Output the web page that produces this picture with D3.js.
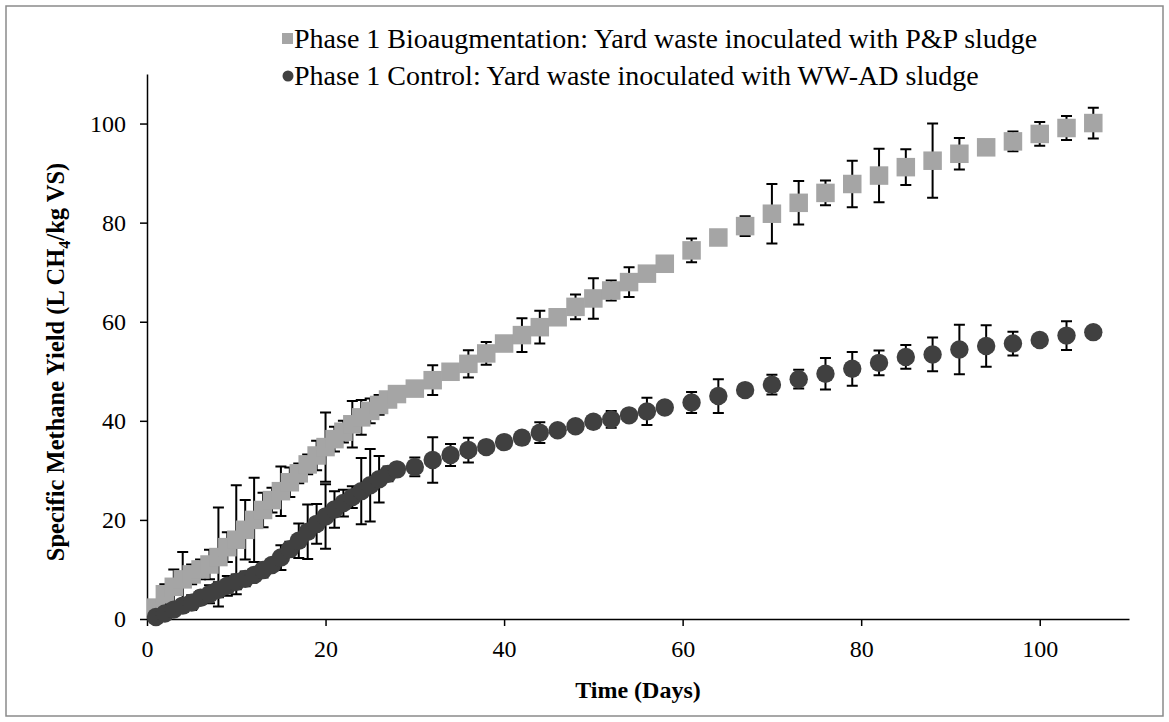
<!DOCTYPE html>
<html>
<head>
<meta charset="utf-8">
<script src="https://cdn.jsdelivr.net/npm/d3@7"></script>
<style>
  body { margin: 0; background: #fff; }
  svg { display: block; font-family: "Liberation Serif", "Times New Roman", serif; }
</style>
</head>
<body>
<div id="myPlot"></div>
<script>
// sampling days (daily to day 28, then every 2 days, then every 3 days)
const days = [1, 2, 3, 4, 5, 6, 7, 8, 9, 10, 11, 12, 13, 14, 15, 16, 17, 18, 19, 20,
  21, 22, 23, 24, 25, 26, 27, 28, 30, 32, 34, 36, 38, 40, 42, 44, 46, 48, 50, 52, 54,
  56, 58, 61, 64, 67, 70, 73, 76, 79, 82, 85, 88, 91, 94, 97, 100, 103, 106];

// Phase 1 Bioaugmentation (grey squares)
const bioYield = [2.3, 5.0, 6.5, 8.0, 9.0, 10.0, 11.0, 12.5, 14.5, 16.0, 18.0, 20.0, 22.0, 24.0,
  25.8, 27.6, 29.4, 31.2, 33.0, 34.7, 36.3, 37.8, 39.3, 40.7, 42.0, 43.2, 44.3, 45.4,
  46.5, 48.2, 49.9, 51.5, 53.6, 55.6, 57.3, 58.9, 60.9, 63.0, 64.7, 66.3, 68.0,
  69.7, 71.7, 74.4, 77.0, 79.3, 81.8, 84.0, 86.0, 87.8, 89.5, 91.2, 92.5, 93.9, 95.2,
  96.4, 97.9, 99.1, 100.1];
const bioErr = [0.5, 2, 3.5, 5.5, 2, 2, 3, 10, 3, 11, 6, 8.5, 3.5, 2.5, 5, 3, 2, 2, 3, 7,
  2.5, 2.2, 4.7, 3.5, 2.5, 2, 1.5, 1.5,
  0.5, 3, 0.5, 2.75, 2.3, 0.5, 3.4, 3.3, 0.5, 2.5, 4.1, 2, 3,
  0.5, 0.5, 2.4, 1, 2, 6, 4.4, 2.5, 4.7, 5.4, 3.6, 7.5, 3.2, 0.5, 2, 2.4, 2.4, 3.1];

// Phase 1 Control (dark circles)
const ctrlYield = [0.4, 1.1, 1.9, 2.7, 3.3, 4.3, 5.0, 5.9, 6.7, 7.5, 8.1, 8.9, 9.9, 10.9,
  12.4, 14.1, 15.8, 17.6, 19.2, 20.7, 22.1, 23.4, 24.6, 25.8, 27.0, 28.2, 29.3, 30.2,
  30.7, 32.1, 33.1, 34.1, 34.7, 35.7, 36.6, 37.6, 38.1, 38.9, 39.8, 40.3, 41.1,
  41.9, 42.7, 43.7, 45.0, 46.2, 47.3, 48.4, 49.5, 50.5, 51.7, 52.9, 53.4, 54.4, 55.1,
  55.6, 56.3, 57.2, 57.9];
const ctrlErr = [0.3, 0.5, 0.8, 1.2, 1.5, 1.3, 1.8, 1.5, 2.0, 1.5, 1.5, 1.2, 1.5, 1.0,
  2.5, 1.5, 3.5, 5.5, 4.0, 6.5, 3.7, 2.7, 2.2, 6.7, 7.3, 4.7, 1.5, 1.0,
  1.9, 4.6, 2.2, 2.5, 0.5, 0.5, 0.5, 2.1, 0.5, 0.5, 0.5, 1.7, 0.5,
  2.75, 0.5, 2.1, 3.4, 0.5, 2, 1.9, 3.2, 3.4, 2.5, 2.4, 3.4, 5, 4.2, 2.4, 0.5, 2.9, 0.5];

const xTicks = [0, 20, 40, 60, 80, 100];
const yTicks = [0, 20, 40, 60, 80, 100];
const seriesNames = [
  "Phase 1 Bioaugmentation: Yard waste inoculated with P&P sludge",
  "Phase 1 Control: Yard waste inoculated with WW-AD sludge"
];

const serif = "'Liberation Serif', 'Times New Roman', serif";

// chart dimensions
const width = 1169;
const height = 722;
const marginTop = 74;
const marginRight = 40;
const marginBottom = 103;
const marginLeft = 147;

const x = d3.scaleLinear()
    .domain([0, 110])
    .range([marginLeft, width - marginRight]);

const y = d3.scaleLinear()
    .domain([0, 110])
    .range([height - marginBottom, marginTop]);

const svg = d3.select("#myPlot")
  .append("svg")
    .attr("width", width)
    .attr("height", height)
    .attr("viewBox", [0, 0, width, height]);

// outer frame
svg.append("rect")
    .attr("x", 6)
    .attr("y", 6)
    .attr("width", width - 12)
    .attr("height", height - 12)
    .attr("fill", "none")
    .attr("stroke", "#8a8a8a")
    .attr("stroke-width", 1.5);

// x axis
svg.append("g")
    .attr("transform", `translate(0,${height - marginBottom})`)
    .call(d3.axisBottom(x).tickValues(xTicks).tickSize(7).tickSizeOuter(0).tickPadding(14))
    .call(g => g.selectAll("line, path").attr("stroke", "#000").attr("stroke-width", 1.5))
    .call(g => g.selectAll("text").attr("fill", "#000")
        .style("font-size", "24px").style("font-family", serif));

// y axis
svg.append("g")
    .attr("transform", `translate(${marginLeft},0)`)
    .call(d3.axisLeft(y).tickValues(yTicks).tickSize(7).tickSizeOuter(0).tickPadding(14))
    .call(g => g.selectAll("line, path").attr("stroke", "#000").attr("stroke-width", 1.5))
    .call(g => g.selectAll("text").attr("fill", "#000")
        .style("font-size", "24px").style("font-family", serif));

// axis titles
svg.append("text")
    .attr("x", (marginLeft + width - marginRight) / 2)
    .attr("y", 698)
    .attr("text-anchor", "middle")
    .style("font-family", serif)
    .style("font-size", "24px")
    .style("font-weight", "bold")
    .text("Time (Days)");

const yTitle = svg.append("text")
    .attr("transform", "translate(64,362) rotate(-90)")
    .attr("text-anchor", "middle")
    .style("font-family", serif)
    .style("font-size", "24.5px")
    .style("font-weight", "bold");
yTitle.append("tspan").text("Specific Methane Yield (L CH");
yTitle.append("tspan").attr("dy", 6).style("font-size", "16px").text("4");
yTitle.append("tspan").attr("dy", -6).text("/kg VS)");

const bio = days.map((d, i) => ({day: d, v: bioYield[i], e: bioErr[i]}));
const ctrl = days.map((d, i) => ({day: d, v: ctrlYield[i], e: ctrlErr[i]}));

const cap = 5.5;
function errorBars(data) {
  const g = svg.append("g")
      .attr("stroke", "#000")
      .attr("stroke-width", 2)
      .attr("fill", "none");
  g.selectAll("path")
    .data(data)
    .join("path")
      .attr("d", d => {
        const cx = x(d.day), y1 = y(d.v + d.e), y2 = y(d.v - d.e);
        return `M${cx},${y1}V${y2}M${cx - cap},${y1}H${cx + cap}M${cx - cap},${y2}H${cx + cap}`;
      });
}

// grey series: bars then squares
errorBars(bio);
const sq = 18.5;
svg.append("g")
    .attr("fill", "#a5a5a5")
  .selectAll("rect")
  .data(bio)
  .join("rect")
    .attr("x", d => x(d.day) - sq / 2)
    .attr("y", d => y(d.v) - sq / 2)
    .attr("width", sq)
    .attr("height", sq);

// dark series: bars then circles
errorBars(ctrl);
svg.append("g")
    .attr("fill", "#404040")
  .selectAll("circle")
  .data(ctrl)
  .join("circle")
    .attr("cx", d => x(d.day))
    .attr("cy", d => y(d.v))
    .attr("r", 9.2);

// legend
const legend = svg.append("g");
legend.append("rect")
    .attr("x", 282).attr("y", 33).attr("width", 11).attr("height", 11)
    .attr("fill", "#a5a5a5");
legend.append("text")
    .attr("x", 294).attr("y", 48)
    .attr("font-family", "Liberation Serif")
    .attr("font-size", 28)
    .text(seriesNames[0]);
legend.append("circle")
    .attr("cx", 288).attr("cy", 76).attr("r", 5.5)
    .attr("fill", "#404040");
legend.append("text")
    .attr("x", 294).attr("y", 85)
    .attr("font-family", "Liberation Serif")
    .attr("font-size", 28)
    .text(seriesNames[1]);
</script>
</body>
</html>
